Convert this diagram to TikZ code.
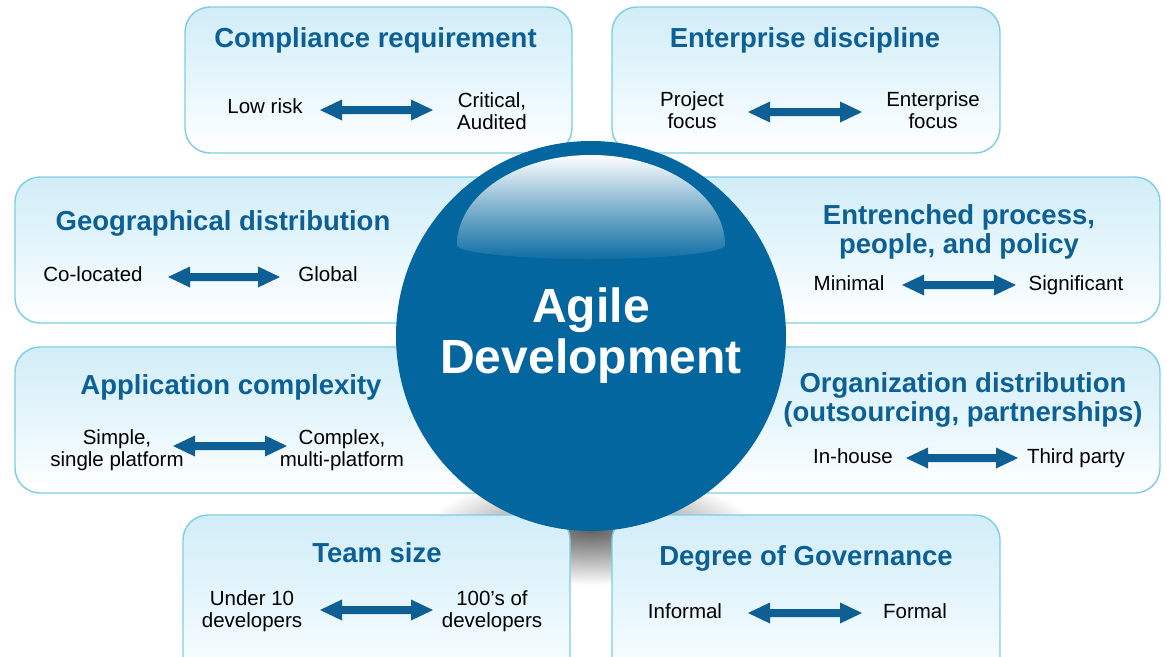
\documentclass[tikz,border=0pt]{standalone}
\usepackage{fontspec}
\setmainfont{Liberation Sans}
\usetikzlibrary{calc}
\definecolor{circblue}{RGB}{3,102,158}
\definecolor{ttlblue}{RGB}{12,96,150}
\definecolor{arrblue}{RGB}{14,96,148}
\definecolor{boxedge}{RGB}{125,206,228}
\definecolor{boxtop}{RGB}{210,237,248}
\definecolor{boxmid}{RGB}{230,246,252}
\newcommand{\twol}[2]{\begin{tabular}[t]{@{}c@{}}#1\\#2\end{tabular}}
\newcommand{\dblarr}[2]{\fill[arrblue] (#1) -- ($(#1)+(22,10.5)$) -- ($(#1)+(22,4)$) -- ($(#2)+(-22,4)$) -- ($(#2)+(-22,10.5)$) -- (#2) -- ($(#2)+(-22,-10.5)$) -- ($(#2)+(-22,-4)$) -- ($(#1)+(22,-4)$) -- ($(#1)+(22,-10.5)$) -- cycle;}
\begin{document}
\begin{tikzpicture}[x=1pt,y=-1pt,
  box/.style={rectangle, draw=boxedge, line width=1.4pt, rounded corners=25pt,
    top color=boxtop, bottom color=white, middle color=boxmid, inner sep=0pt},
  ttl/.style={font=\bfseries\fontsize{27.5}{29}\selectfont, text=ttlblue, inner sep=0pt, anchor=base},
  lbl/.style={font=\fontsize{20.5}{22}\selectfont, text=black, inner sep=0pt, anchor=base}]
\useasboundingbox (0,0) rectangle (1167,656);
\clip (0,0) rectangle (1167,656);
\fill[white] (0,0) rectangle (1167,656);
% shadow under the ball
\shade[inner color=black!62, outer color=white] (591,530) ellipse [x radius=165, y radius=55];
% boxes
\node[box, minimum width=387, minimum height=146] (b1) at (378.5,80) {};
\node[box, minimum width=388, minimum height=146] (b2) at (806,80) {};
\node[box, minimum width=545, minimum height=146] (b3) at (287.5,250) {};
\node[box, minimum width=540, minimum height=146] (b4) at (890,250) {};
\node[box, minimum width=545, minimum height=146] (b5) at (287.5,420) {};
\node[box, minimum width=540, minimum height=146] (b6) at (890,420) {};
\node[box, minimum width=387, minimum height=175] (b7) at (376.5,602.5) {};
\node[box, minimum width=388, minimum height=175] (b8) at (806,602.5) {};
% ball
\node[circle, fill=circblue, minimum size=390, inner sep=0pt, text=white,
  font=\bfseries\fontsize{48}{51}\selectfont, align=center] (core) at (591,336) {Agile\\Development};
\shade[top color=white, bottom color=circblue!95!white, middle color=circblue!50!white]
  (457,245) .. controls (457,195.3) and (517,155) .. (591,155)
  .. controls (665,155) and (725,195.3) .. (725,245)
  .. controls (725,252.7) and (665,259) .. (591,259)
  .. controls (517,259) and (457,252.7) .. (457,245) -- cycle;
% box 1
\node[ttl] (t1) at (375.5,47) {Compliance requirement};
\node[lbl] (l1) at (265,113) {Low risk};
\node[lbl] (r1) at (492,107) {\twol{Critical,}{Audited}};
\coordinate (a1l) at (320,110); \coordinate (a1r) at (433,110);
\dblarr{a1l}{a1r}
% box 2
\node[ttl] (t2) at (805,47) {Enterprise discipline};
\node[lbl] (l2) at (692,106) {\twol{Project}{focus}};
\node[lbl] (r2) at (933,106) {\twol{Enterprise}{focus}};
\coordinate (a2l) at (748,112); \coordinate (a2r) at (862,112);
\dblarr{a2l}{a2r}
% box 3
\node[ttl] (t3) at (223,230.5) {Geographical distribution};
\node[lbl] (l3) at (93,281) {Co-located};
\node[lbl] (r3) at (328,281) {Global};
\coordinate (a3l) at (168,277); \coordinate (a3r) at (280,277);
\dblarr{a3l}{a3r}
% box 4
\node[ttl] (t4) at (959,224) {\twol{Entrenched process,}{people, and policy}};
\node[lbl] (l4) at (849,290) {Minimal};
\node[lbl] (r4) at (1076,290) {Significant};
\coordinate (a4l) at (902,285); \coordinate (a4r) at (1016,285);
\dblarr{a4l}{a4r}
% box 5
\node[ttl] (t5) at (231,394) {Application complexity};
\node[lbl] (l5) at (117,444) {\twol{Simple,}{single platform}};
\node[lbl] (r5) at (342,444) {\twol{Complex,}{multi-platform}};
\coordinate (a5l) at (173,446); \coordinate (a5r) at (287,446);
\dblarr{a5l}{a5r}
% box 6
\node[ttl] (t6) at (963,392) {\twol{Organization distribution}{(outsourcing, partnerships)}};
\node[lbl] (l6) at (853,463) {In-house};
\node[lbl] (r6) at (1076,463) {Third party};
\coordinate (a6l) at (906,458); \coordinate (a6r) at (1018,458);
\dblarr{a6l}{a6r}
% box 7
\node[ttl] (t7) at (377,562) {Team size};
\node[lbl] (l7) at (252,605) {\twol{Under 10}{developers}};
\node[lbl] (r7) at (492,605) {\twol{100’s of}{developers}};
\coordinate (a7l) at (320,610); \coordinate (a7r) at (433,610);
\dblarr{a7l}{a7r}
% box 8
\node[ttl] (t8) at (806,565) {Degree of Governance};
\node[lbl] (l8) at (685,618) {Informal};
\node[lbl] (r8) at (915,618) {Formal};
\coordinate (a8l) at (748,613); \coordinate (a8r) at (862,613);
\dblarr{a8l}{a8r}
\end{tikzpicture}
\end{document}
